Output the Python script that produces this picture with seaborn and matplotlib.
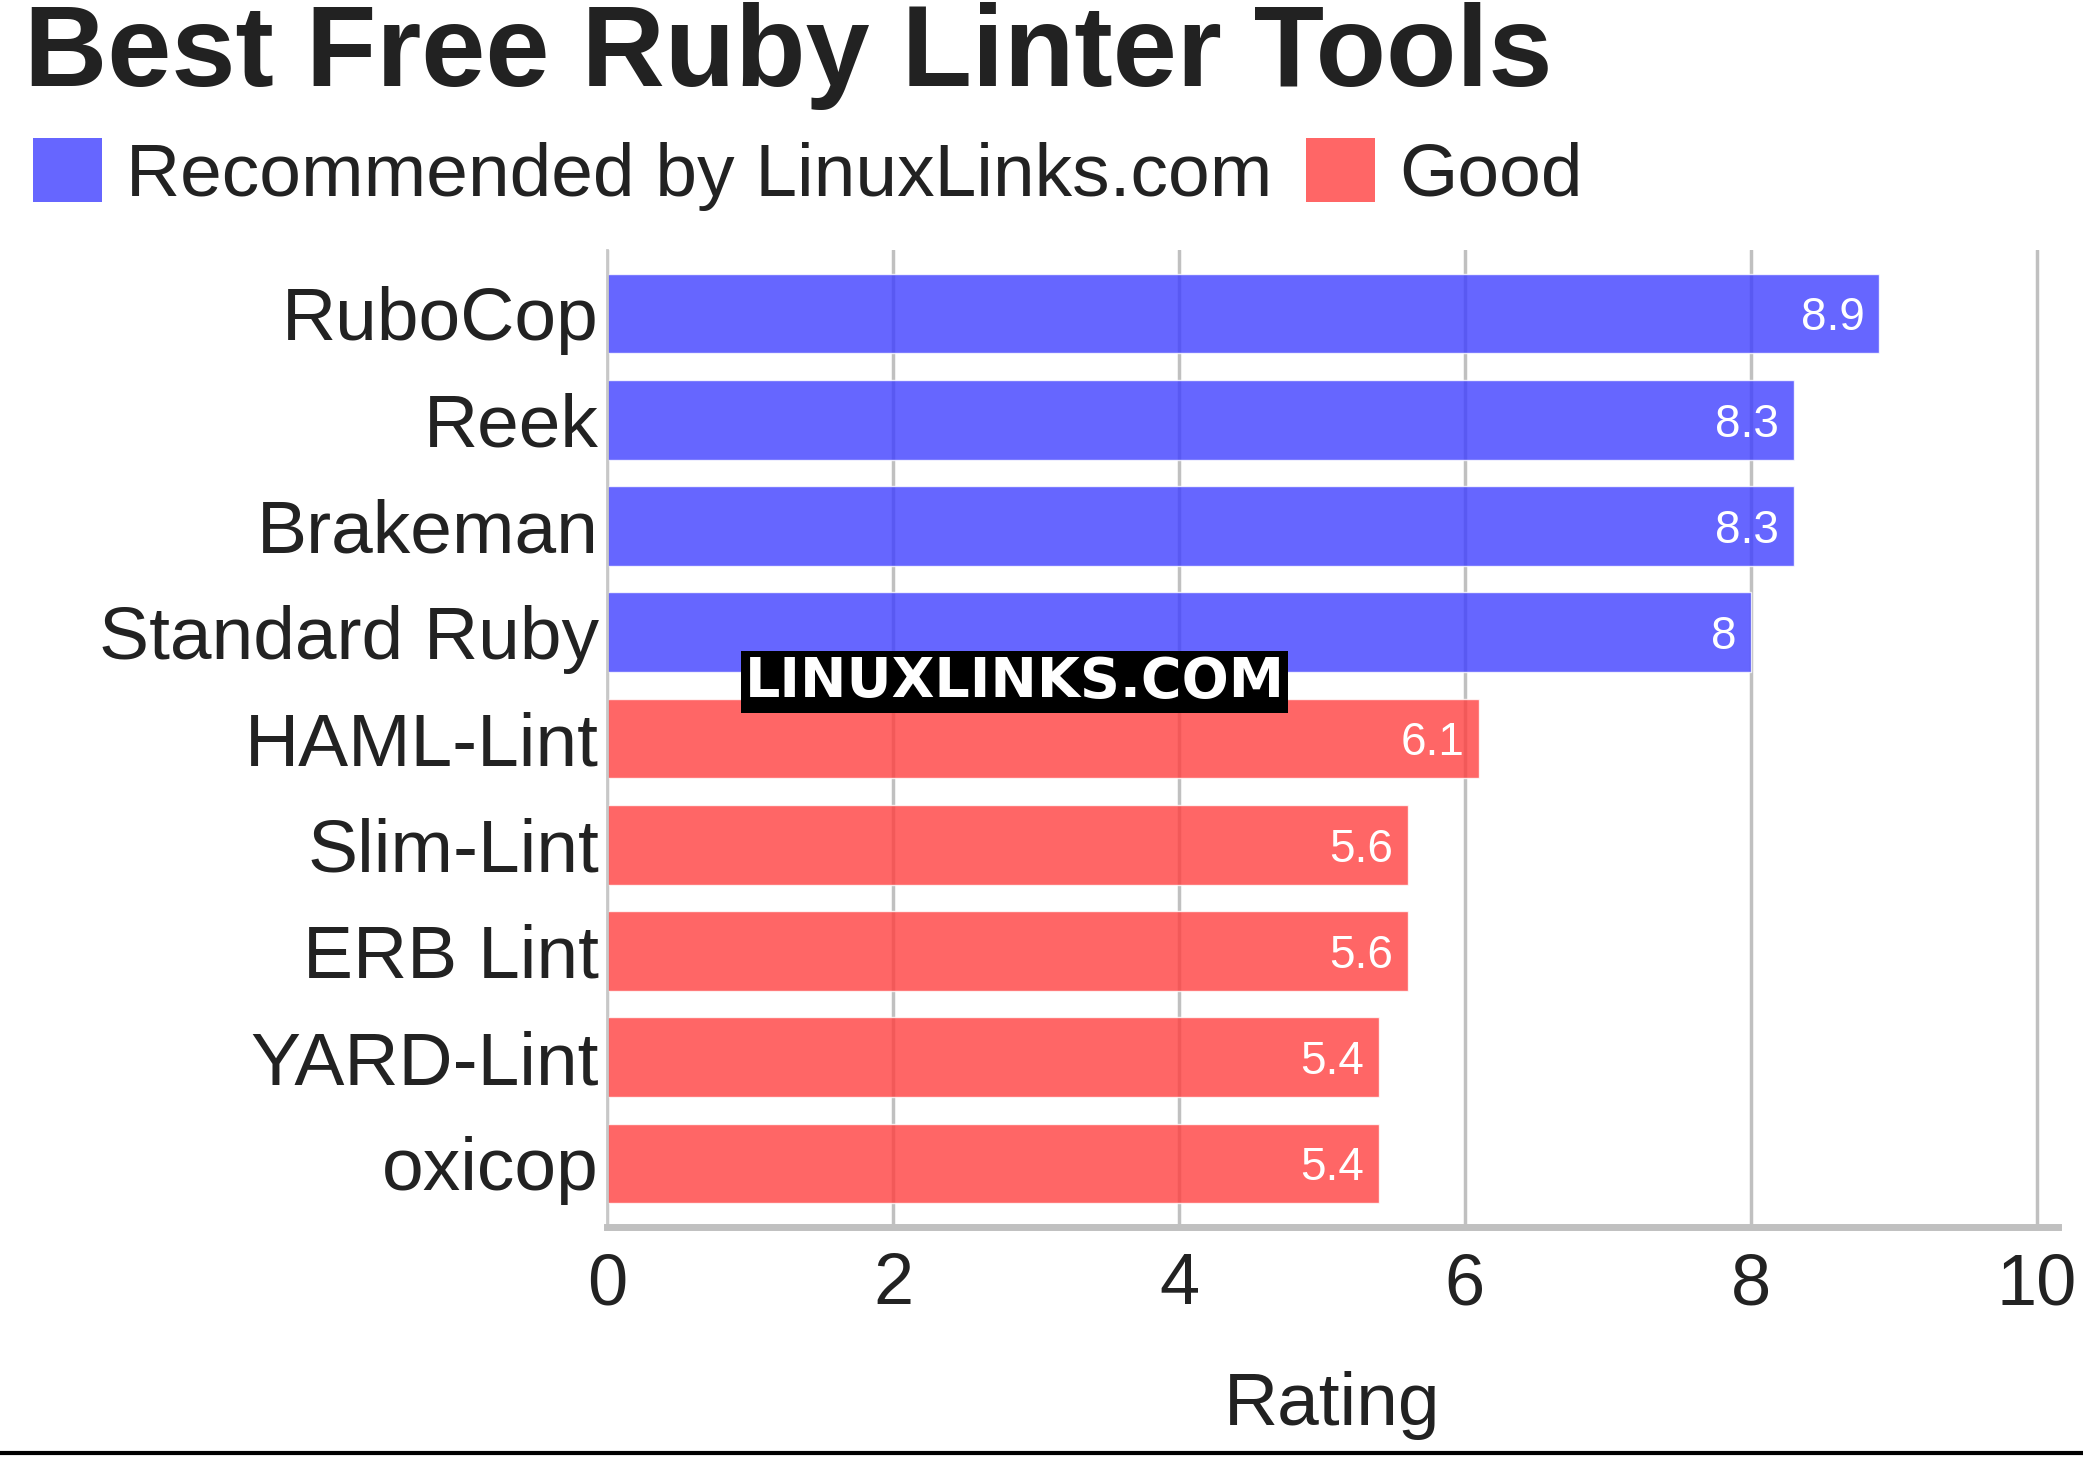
import matplotlib
matplotlib.use("Agg")
import matplotlib.pyplot as plt
import seaborn as sns
import pandas as pd
from matplotlib.patches import Patch
from matplotlib.lines import Line2D

# data
tools = ["RuboCop", "Reek", "Brakeman", "Standard Ruby", "HAML-Lint",
         "Slim-Lint", "ERB Lint", "YARD-Lint", "oxicop"]
ratings = [8.9, 8.3, 8.3, 8.0, 6.1, 5.6, 5.6, 5.4, 5.4]
groups = ["Recommended by LinuxLinks.com"] * 4 + ["Good"] * 5
group_names = ["Recommended by LinuxLinks.com", "Good"]
group_colors = ["#4040ff", "#ff4040"]
x_ticks = [0, 2, 4, 6, 8, 10]

df = pd.DataFrame({"tool": tools, "rating": ratings, "group": groups})

sns.set_style("white")
plt.rcParams["font.family"] = ["Liberation Sans", "DejaVu Sans"]
txt = "#222222"

fig = plt.figure(figsize=(20.83, 14.57), dpi=100)
ax = fig.add_axes([0.2915, 0.1577, 0.988 - 0.2915, 0.8286 - 0.1577])

sns.barplot(data=df, x="rating", y="tool", hue="group", hue_order=group_names,
            palette=group_colors, orient="h", width=0.75, dodge=False,
            legend=False, saturation=1, alpha=0.8, ax=ax, zorder=2)

ax.set_xlim(0, 10.15)
ax.set_ylim(8.6, -0.6)
ax.set_xticks(x_ticks)
ax.set_xticklabels([str(t) for t in x_ticks])
ax.grid(axis="x", color="#c0c0c0", linewidth=2.5)
ax.set_axisbelow(True)
ax.tick_params(axis="y", length=0, pad=6, labelsize=54, labelcolor=txt)
ax.tick_params(axis="x", length=0, pad=18, labelsize=52, labelcolor=txt)
ax.set_ylabel("")
ax.set_xlabel("Rating", fontsize=54, color=txt, labelpad=37)

for s in ["top", "right"]:
    ax.spines[s].set_visible(False)
ax.spines["left"].set_color("#c8c8c8")
ax.spines["left"].set_linewidth(2)
ax.spines["bottom"].set_color("#c0c0c0")
ax.spines["bottom"].set_linewidth(5)

# value labels inside bar ends
for i, v in enumerate(ratings):
    lab = f"{v:g}"
    ax.annotate(lab, (v, i), xytext=(-10.5, 0), textcoords="offset points",
                ha="right", va="center_baseline", color="white", fontsize=33)

fig.text(0.0115, 0.941, "Best Free Ruby Linter Tools", fontsize=83,
         fontweight="bold", color=txt, ha="left", va="baseline")

handles = [Patch(facecolor=c, edgecolor="none", alpha=0.8) for c in group_colors]
fig.legend(handles, group_names, loc="upper left", bbox_to_anchor=(0.016, 0.905),
           ncol=2, frameon=False, fontsize=54, handlelength=0.92,
           handleheight=0.92, handletextpad=0.32, columnspacing=0.45,
           borderpad=0, borderaxespad=0, labelcolor=txt)

fig.text(0.487, 0.532, "LINUXLINKS.COM", fontsize=40, fontweight="bold",
         family="DejaVu Sans", color="white", ha="center", va="center",
         bbox=dict(facecolor="black", edgecolor="none", pad=3))

fig.add_artist(Line2D([0, 1], [0.003, 0.003], color="black", linewidth=3))

fig.savefig("out.png", dpi=100)
